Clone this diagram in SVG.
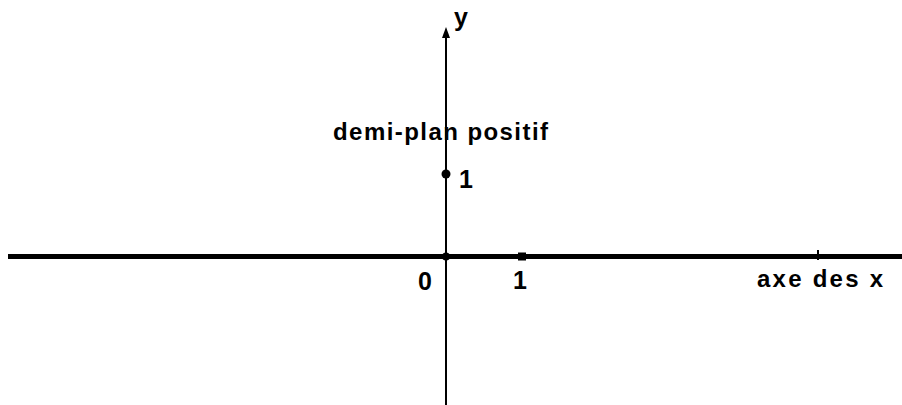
<svg xmlns="http://www.w3.org/2000/svg" width="902" height="405" viewBox="0 0 902 405">
<style>
.t{font-family:"Liberation Sans",Arial,sans-serif;font-weight:bold;fill:#000}
.ax{stroke:#000;fill:none}
</style>
<rect width="902" height="405" fill="#fff"/>
<g id="connectors">
<line class="ax" x1="8" y1="256.5" x2="902" y2="256.5" stroke-width="5"/>
<line class="ax" x1="446" y1="34" x2="446" y2="405" stroke-width="2"/>
<polygon points="446,27 442,38 450,38" fill="#000"/>
<line class="ax" x1="818" y1="250" x2="818" y2="260" stroke-width="2"/>
</g>
<g id="origin">
<circle cx="446" cy="256.5" r="4" fill="#000"/>
<text class="t" x="418" y="290" font-size="25">0</text>
</g>
<g id="x1">
<rect x="518" y="252.5" width="8" height="8" fill="#000"/>
<text class="t" x="513" y="289" font-size="25">1</text>
</g>
<g id="y1">
<circle cx="446" cy="174" r="4.5" fill="#000"/>
<text class="t" x="459" y="188" font-size="25">1</text>
</g>
<g id="ylabel">
<text class="t" x="454" y="26" font-size="25">y</text>
</g>
<g id="halfplane">
<text class="t" x="333" y="140" font-size="24" textLength="215" lengthAdjust="spacing">demi-plan positif</text>
</g>
<g id="xlabel">
<text class="t" x="757" y="287" font-size="24" textLength="126" lengthAdjust="spacing">axe des x</text>
</g>
</svg>
